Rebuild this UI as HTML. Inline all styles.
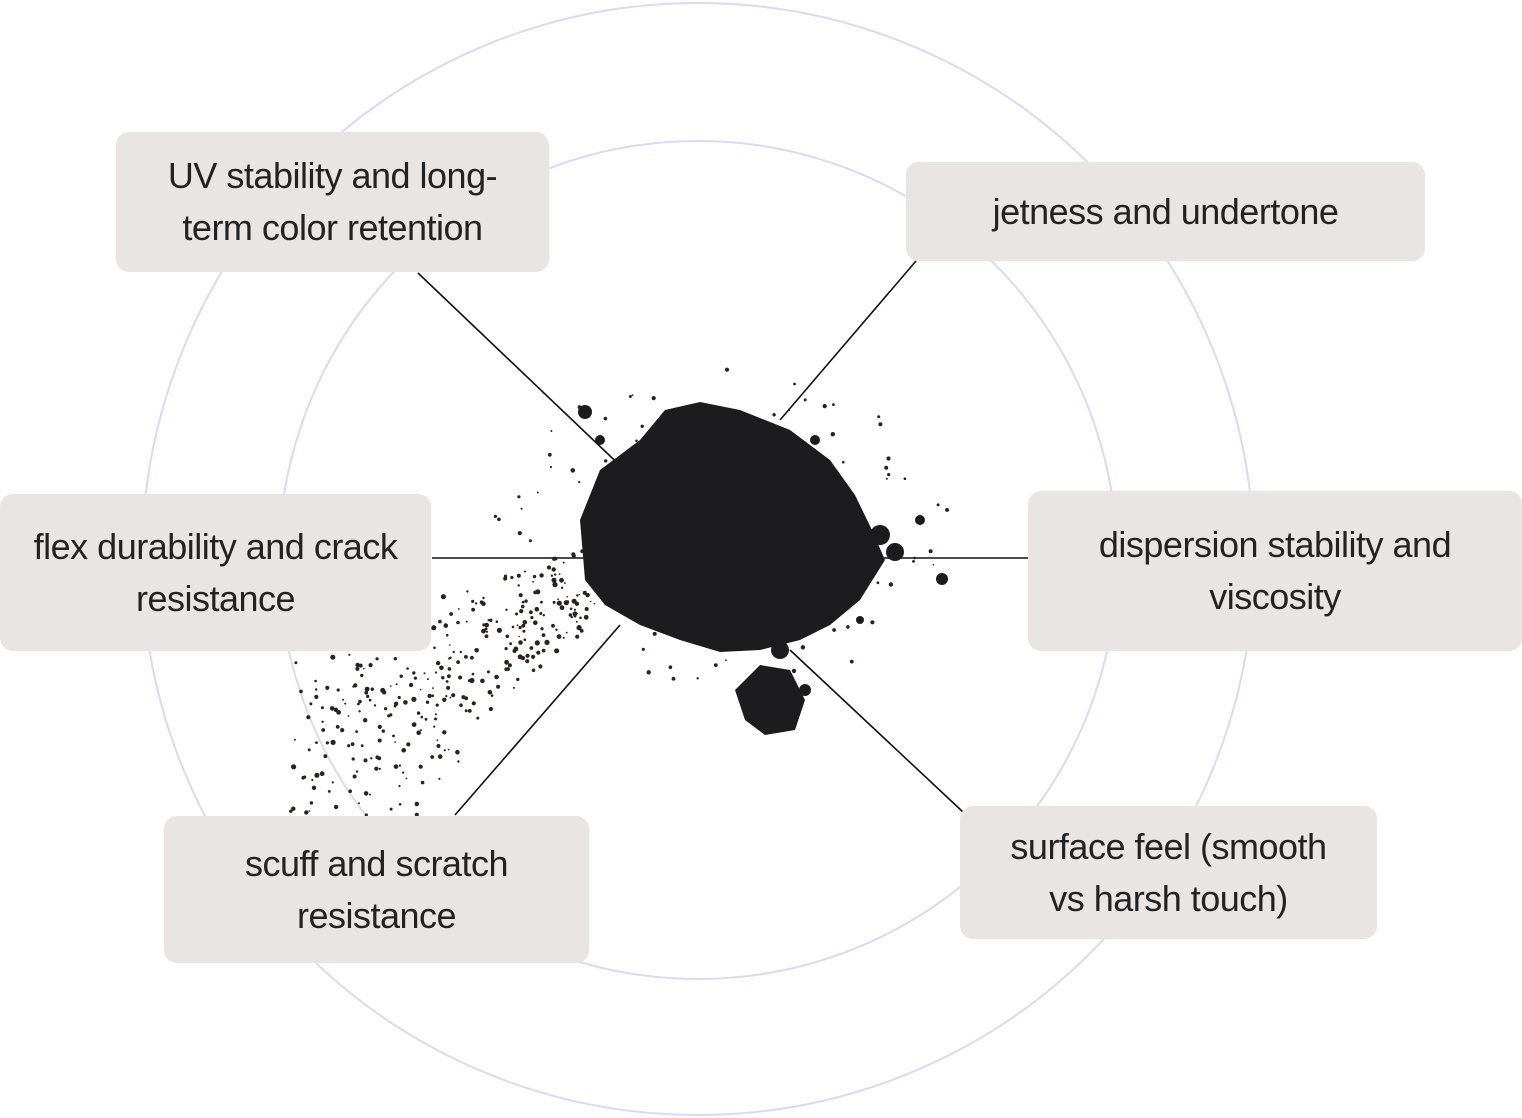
<!DOCTYPE html>
<html><head><meta charset="utf-8"><style>
html,body{margin:0;padding:0;background:#fff;}
body{width:1522px;height:1118px;position:relative;overflow:hidden;font-family:"Liberation Sans",sans-serif;}
.b{position:absolute;background:#e8e5e2;border-radius:13px;display:flex;align-items:center;justify-content:center;text-align:center;font-size:36px;line-height:52px;color:#222;letter-spacing:-0.5px;}
svg{position:absolute;left:0;top:0;}
</style></head><body>
<svg width="1522" height="1118" id="s">
<circle cx="698" cy="559" r="556" fill="none" stroke="#ddd8f6" stroke-width="2"/>
<circle cx="698" cy="560" r="419" fill="none" stroke="#ddd8f6" stroke-width="2"/>
<g stroke="#111" stroke-width="1.6">
<line x1="418" y1="273" x2="630" y2="475"/>
<line x1="916" y1="261" x2="780" y2="420"/>
<line x1="432" y1="558" x2="590" y2="558"/>
<line x1="1028" y1="558" x2="870" y2="558"/>
<line x1="455" y1="815" x2="620" y2="625"/>
<line x1="963" y1="812" x2="790" y2="650"/>
</g>
<g id="dots" fill="#2a2220"></g>
<g fill="#1c1c1e">
<path d="M580,520 L600,470 L640,440 L665,410 L700,402 L740,410 L790,430 L830,460 L855,495 L872,530 L885,560 L860,600 L830,625 L800,640 L760,650 L720,652 L680,640 L640,625 L605,605 L585,580 Z"/>
<path d="M735,690 L760,665 L790,670 L805,700 L795,730 L765,735 L745,720 Z"/>
<circle cx="585" cy="412" r="7"/><circle cx="942" cy="579" r="6"/><circle cx="920" cy="520" r="5"/>
<circle cx="895" cy="552" r="9"/><circle cx="880" cy="535" r="10"/><circle cx="860" cy="525" r="8"/>
<circle cx="780" cy="650" r="9"/><circle cx="805" cy="690" r="6"/><circle cx="600" cy="440" r="5"/>
<circle cx="815" cy="440" r="5"/><circle cx="860" cy="620" r="4"/>
</g>
</svg>
<div class="b" style="left:116px;top:132px;width:433px;height:140px;">UV stability and long-<br>term color retention</div>
<div class="b" style="left:906px;top:162px;width:519px;height:99px;">jetness and undertone</div>
<div class="b" style="left:0px;top:494px;width:431px;height:157px;">flex durability and crack<br>resistance</div>
<div class="b" style="left:1028px;top:491px;width:494px;height:160px;">dispersion stability and<br>viscosity</div>
<div class="b" style="left:164px;top:816px;width:425px;height:147px;">scuff and scratch<br>resistance</div>
<div class="b" style="left:960px;top:806px;width:417px;height:133px;">surface feel (smooth<br>vs harsh touch)</div>
<script>
(function(){var g=document.getElementById('dots');var s=7;function r(){s=(s*16807)%2147483647;return s/2147483647;}
var h='';for(var i=0;i<420;i++){var t=r(),u=r();
var x=620-t*330+ (u-0.5)*200*t; var y=560+t*220+(r()-0.5)*160*(0.3+t);
if(x<290||y>815)continue;var rad=0.8+r()*1.8;h+='<circle cx="'+x.toFixed(1)+'" cy="'+y.toFixed(1)+'" r="'+rad.toFixed(1)+'"/>';}
for(var j=0;j<80;j++){var a=r()*6.28,d=150+r()*80;h+='<circle cx="'+(720+Math.cos(a)*d).toFixed(1)+'" cy="'+(530+Math.sin(a)*d*0.7).toFixed(1)+'" r="'+(0.8+r()*1.5).toFixed(1)+'"/>';}
g.innerHTML=h;})();
</script>
</body></html>
